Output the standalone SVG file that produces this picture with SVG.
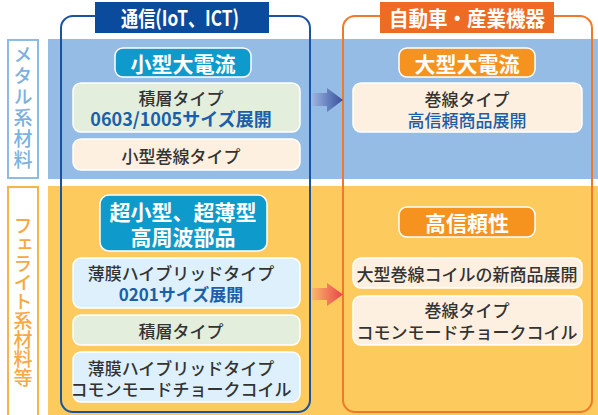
<svg xmlns="http://www.w3.org/2000/svg" width="598" height="415" viewBox="0 0 598 415">
<defs>
<linearGradient id="gBlue" x1="0" x2="1" y1="0" y2="0"><stop offset="0" stop-color="#9db4df"/><stop offset="1" stop-color="#34509f"/></linearGradient>
<linearGradient id="gRed" x1="0" x2="1" y1="0" y2="0"><stop offset="0" stop-color="#fab768"/><stop offset="1" stop-color="#e8434b"/></linearGradient>
<style>
text{font-family:"Noto Sans CJK JP","Noto Sans",sans-serif;text-anchor:middle;dominant-baseline:central}
.ttl{font-size:21px;font-weight:700;fill:#fff}
.pill{font-size:21px;font-weight:700;fill:#fff}
.bx{font-size:17px;fill:#333;font-weight:500}
.bl{fill:#1a5fab;font-weight:700}
.blr{fill:#1a5fab;font-weight:500}
.box{stroke:#fff;stroke-width:1.5}
.green{fill:#e3eedd}
.cream{fill:#fdf0e0}
.lblue{fill:#ddf0fb}
.cpill{fill:#0e9acb;stroke:#fff;stroke-width:1.5}
.opill{fill:#f6931f;stroke:#fff;stroke-width:1.5}
.vert{writing-mode:vertical-rl;font-size:19px;font-weight:500}
</style>
</defs>
<g id="bands">
<rect x="48" y="39" width="550" height="140" fill="#94bce4"/>
<rect x="48" y="186" width="550" height="229" fill="#fdca5d"/>
</g>
<g id="label-metal">
<rect x="8" y="40" width="30" height="138" fill="#fff" stroke="#8cbbe6" stroke-width="2"/>
<text class="vert" x="23" y="108" fill="#7cb1e1" letter-spacing="2">メタル系材料</text>
</g>
<g id="label-ferrite">
<rect x="8" y="187" width="30" height="235" fill="#fff" stroke="#f9b449" stroke-width="2"/>
<text class="vert" x="23" y="302" fill="#f7a842" letter-spacing="0">フェライト系材料等</text>
</g>
<g id="frame-comm">
<rect x="61" y="16" width="249" height="396" rx="12" fill="none" stroke="#1a53a3" stroke-width="2"/>
<rect x="95" y="2" width="174" height="31" fill="#0b4b9d"/>
<text class="ttl" transform="translate(180,17) scale(0.82,1)" x="0" y="0">通信(IoT、ICT)</text>
</g>
<g id="frame-auto">
<rect x="343" y="16" width="249" height="396" rx="12" fill="none" stroke="#f07a2b" stroke-width="2"/>
<rect x="380" y="2" width="174" height="31" fill="#ee6b24"/>
<text class="ttl" transform="translate(467,17) scale(0.93,1)" x="0" y="0">自動車・産業機器</text>
</g>
<g id="pill-small-current">
<rect class="cpill" x="115" y="48" width="136" height="29" rx="8"/>
<text class="pill" x="183" y="62.5">小型大電流</text>
</g>
<g id="box-multilayer-0603">
<rect class="box green" x="73" y="83" width="227" height="49" rx="8"/>
<text class="bx" x="181" y="97">積層タイプ<tspan class="bl" x="181" dy="21" font-size="18">0603/1005サイズ展開</tspan></text>
</g>
<g id="box-small-wound">
<rect class="box cream" x="73" y="139" width="227" height="31" rx="8"/>
<text class="bx" x="181" y="155">小型巻線タイプ</text>
</g>
<g id="pill-large-current">
<rect class="opill" x="399" y="48" width="136" height="29" rx="8"/>
<text class="pill" x="467" y="62.5">大型大電流</text>
</g>
<g id="box-wound-reliable">
<rect class="box cream" x="353" y="83" width="229" height="49" rx="8"/>
<text class="bx" x="467" y="98">巻線タイプ<tspan class="blr" x="467" dy="21">高信頼商品展開</tspan></text>
</g>
<g id="pill-hf">
<rect class="cpill" x="100" y="195" width="167" height="56" rx="9"/>
<text class="pill" x="183" y="211">超小型、超薄型<tspan x="183" dy="25">高周波部品</tspan></text>
</g>
<g id="box-thinfilm-0201">
<rect class="box lblue" x="73" y="258" width="227" height="50" rx="8"/>
<text class="bx" x="181" y="272">薄膜ハイブリッドタイプ<tspan class="bl" x="181" dy="21">0201サイズ展開</tspan></text>
</g>
<g id="box-multilayer">
<rect class="box green" x="73" y="315" width="227" height="30" rx="8"/>
<text class="bx" x="181" y="330">積層タイプ</text>
</g>
<g id="box-thinfilm-cm">
<rect class="box lblue" x="73" y="352" width="227" height="50" rx="8"/>
<text class="bx" x="181" y="367">薄膜ハイブリッドタイプ<tspan x="181" dy="21">コモンモードチョークコイル</tspan></text>
</g>
<g id="pill-reliability">
<rect class="opill" x="399" y="207" width="136" height="30" rx="8"/>
<text class="pill" x="467" y="222">高信頼性</text>
</g>
<g id="box-large-wound-coil">
<rect class="box cream" x="353" y="258" width="229" height="30" rx="8"/>
<text class="bx" x="467" y="273">大型巻線コイルの新商品展開</text>
</g>
<g id="box-wound-cm">
<rect class="box cream" x="353" y="296" width="229" height="49" rx="8"/>
<text class="bx" x="467" y="309">巻線タイプ<tspan x="467" dy="22">コモンモードチョークコイル</tspan></text>
</g>
<g id="connectors">
<polygon points="312,93 327,93 327,88 343,100 327,112 327,106 312,106" fill="url(#gBlue)"/>
<polygon points="312,288 327,288 327,283 343,294.5 327,306 327,300 312,300" fill="url(#gRed)"/>
</g>
</svg>
